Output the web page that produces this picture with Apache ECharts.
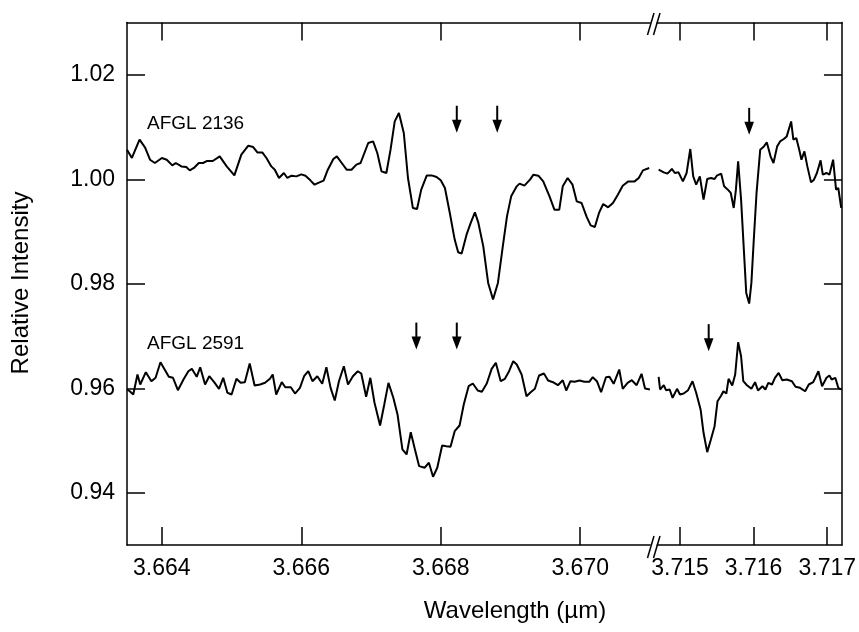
<!DOCTYPE html>
<html>
<head>
<meta charset="utf-8">
<script src="https://cdn.jsdelivr.net/npm/echarts@6/dist/echarts.min.js"></script>
<style>
  html, body { margin: 0; padding: 0; background: #fff; }
  #chart { width: 859px; height: 632px; }
</style>
</head>
<body>
<div id="chart"></div>
<script>
// ---- Spectra: wavelength (µm) and relative intensity ----
// AFGL 2136, short-wavelength segment
const wave2136A = [
  3.66350,3.66357,3.66368,3.66376,3.66383,3.66390,3.66400,3.66407,3.66415,3.66420,
  3.66428,3.66435,3.66440,3.66446,3.66453,3.66459,3.66465,3.66473,3.66483,3.66493,
  3.66504,3.66514,3.66524,3.66531,3.66537,3.66544,3.66550,3.66557,3.66562,3.66568,
  3.66575,3.66580,3.66586,3.66593,3.66600,3.66606,3.66613,3.66619,3.66626,3.66632,
  3.66638,3.66646,3.66651,3.66658,3.66665,3.66672,3.66679,3.66685,3.66696,3.66703,
  3.66709,3.66715,3.66722,3.66728,3.66734,3.66740,3.66747,3.66753,3.66760,3.66766,
  3.66772,3.66780,3.66787,3.66794,3.66800,3.66806,3.66813,3.66820,3.66825,3.66830,
  3.66837,3.66843,3.66849,3.66854,3.66861,3.66868,3.66875,3.66882,3.66889,3.66895,
  3.66901,3.66909,3.66913,3.66920,3.66928,3.66933,3.66940,3.66947,3.66956,3.66963,
  3.66970,3.66975,3.66982,3.66989,3.66995,3.67002,3.67009,3.67015,3.67021,3.67027,
  3.67033,3.67040,3.67047,3.67054,3.67061,3.67069,3.67078,3.67084,3.67090,3.67099
];
const int2136A = [
  1.00566,1.00407,1.00757,1.00604,1.00374,1.00311,1.00407,1.00374,1.00265,1.00311,
  1.00246,1.00235,1.00170,1.00216,1.00311,1.00311,1.00350,1.00350,1.00438,1.00246,
  1.00074,1.00470,1.00642,1.00617,1.00514,1.00514,1.00407,1.00246,1.00183,1.00024,
  1.00120,1.00024,1.00068,1.00055,1.00093,1.00068,0.99979,0.99896,0.99940,0.99973,
  1.00183,1.00388,1.00438,1.00311,1.00183,1.00183,1.00279,1.00311,1.00694,1.00724,
  1.00503,1.00151,1.00120,1.00566,1.01107,1.01268,1.00885,1.00024,0.99451,0.99432,
  0.99801,1.00074,1.00074,1.00044,0.99979,0.99833,0.99355,0.98845,0.98602,0.98577,
  0.98940,0.99164,0.99367,0.99164,0.98716,0.98016,0.97697,0.98016,0.98716,0.99290,
  0.99673,0.99864,0.99916,0.99877,0.99992,1.00088,1.00068,0.99959,0.99673,0.99418,
  0.99418,0.99864,1.00024,0.99896,0.99577,0.99546,0.99290,0.99118,0.99087,0.99355,
  0.99527,0.99462,0.99546,0.99705,0.99877,0.99959,0.99959,1.00024,1.00170,1.00216
];
// AFGL 2136, long-wavelength segment
const wave2136B = [
  3.71471,3.71478,3.71483,3.71489,3.71493,3.71498,3.71504,3.71509,3.71514,3.71518,
  3.71522,3.71527,3.71532,3.71537,3.71542,3.71547,3.71550,3.71556,3.71560,3.71565,
  3.71569,3.71573,3.71576,3.71579,3.71583,3.71587,3.71590,3.71594,3.71597,3.71600,
  3.71604,3.71609,3.71614,3.71618,3.71623,3.71627,3.71632,3.71636,3.71641,3.71645,
  3.71651,3.71654,3.71658,3.71662,3.71665,3.71669,3.71673,3.71678,3.71682,3.71686,
  3.71691,3.71694,3.71699,3.71703,3.71708,3.71712,3.71715,3.71719
];
const int2136B = [
  1.00183,1.00132,1.00107,1.00197,1.00120,1.00132,0.99959,1.00120,1.00579,1.00055,
  0.99896,1.00055,0.99610,1.00005,1.00024,1.00005,1.00068,1.00107,0.99864,0.99801,
  0.99738,0.99451,0.99801,1.00342,0.99610,0.98590,0.97825,0.97621,0.98016,0.98781,
  0.99738,1.00566,1.00629,1.00705,1.00438,1.00311,1.00629,1.00724,1.00770,1.00820,
  1.01107,1.00757,1.00789,1.00566,1.00374,1.00533,1.00246,0.99940,0.99992,1.00120,
  1.00361,1.00088,1.00120,1.00088,1.00374,0.99801,0.99833,0.99451
];
// AFGL 2591, short-wavelength segment
const wave2591A = [
  3.66350,3.66354,3.66359,3.66365,3.66369,3.66377,3.66385,3.66391,3.66398,3.66404,
  3.66410,3.66416,3.66423,3.66431,3.66438,3.66443,3.66450,3.66455,3.66462,3.66468,
  3.66475,3.66482,3.66488,3.66494,3.66500,3.66507,3.66513,3.66519,3.66526,3.66533,
  3.66541,3.66548,3.66555,3.66559,3.66564,3.66572,3.66577,3.66585,3.66591,3.66598,
  3.66604,3.66610,3.66616,3.66623,3.66630,3.66636,3.66642,3.66648,3.66654,3.66661,
  3.66667,3.66674,3.66681,3.66686,3.66693,3.66699,3.66705,3.66713,3.66719,3.66725,
  3.66732,3.66738,3.66745,3.66751,3.66757,3.66763,3.66769,3.66777,3.66783,3.66789,
  3.66795,3.66802,3.66808,3.66814,3.66820,3.66827,3.66833,3.66840,3.66846,3.66853,
  3.66859,3.66866,3.66873,3.66879,3.66886,3.66892,3.66898,3.66904,3.66909,3.66916,
  3.66923,3.66929,3.66935,3.66941,3.66948,3.66954,3.66961,3.66968,3.66975,3.66980,
  3.66986,3.66992,3.66999,3.67006,3.67013,3.67018,3.67024,3.67030,3.67037,3.67042,
  3.67048,3.67056,3.67061,3.67068,3.67074,3.67081,3.67088,3.67093,3.67100
];
const int2591A = [
  0.95976,0.95943,0.95880,0.96263,0.96072,0.96307,0.96135,0.96200,0.96498,0.96358,
  0.96219,0.96200,0.95963,0.96167,0.96326,0.96372,0.96219,0.96402,0.96072,0.96230,
  0.96116,0.95989,0.96200,0.95913,0.95880,0.96181,0.96104,0.96116,0.96473,0.96052,
  0.96072,0.96104,0.96181,0.96263,0.95880,0.96116,0.96020,0.96020,0.95899,0.96008,
  0.96230,0.96326,0.96135,0.96230,0.96085,0.96402,0.96008,0.95766,0.96135,0.96422,
  0.96072,0.96230,0.96326,0.96282,0.95836,0.96200,0.95722,0.95287,0.95689,0.96104,
  0.95817,0.95498,0.94829,0.94733,0.95159,0.94829,0.94509,0.94479,0.94574,0.94306,
  0.94479,0.94905,0.94892,0.94880,0.95178,0.95287,0.95689,0.96039,0.96091,0.95957,
  0.95932,0.96091,0.96372,0.96487,0.96135,0.96181,0.96326,0.96517,0.96454,0.96263,
  0.95848,0.95924,0.95989,0.96244,0.96282,0.96148,0.96116,0.96058,0.96154,0.95957,
  0.96135,0.96123,0.96148,0.96123,0.96123,0.96211,0.96135,0.95924,0.96211,0.96219,
  0.96085,0.96358,0.95989,0.96104,0.96154,0.96058,0.96276,0.95995,0.95976
];
// AFGL 2591, long-wavelength segment
const wave2591B = [
  3.71471,3.71473,3.71478,3.71481,3.71486,3.71490,3.71496,3.71500,3.71505,3.71511,
  3.71517,3.71522,3.71528,3.71532,3.71537,3.71542,3.71547,3.71551,3.71556,3.71559,
  3.71563,3.71566,3.71571,3.71575,3.71579,3.71583,3.71586,3.71591,3.71597,3.71602,
  3.71606,3.71612,3.71616,3.71620,3.71625,3.71629,3.71634,3.71639,3.71645,3.71652,
  3.71657,3.71663,3.71670,3.71675,3.71681,3.71688,3.71693,3.71699,3.71703,3.71706,
  3.71711,3.71715,3.71719
];
const int2591B = [
  0.96219,0.95976,0.96058,0.95963,0.95976,0.95817,0.95989,0.95880,0.95899,0.95963,
  0.96135,0.95913,0.95594,0.95148,0.94777,0.95020,0.95274,0.95752,0.95861,0.95943,
  0.95899,0.96181,0.96052,0.96263,0.96881,0.96613,0.96135,0.96058,0.95989,0.96116,
  0.95957,0.96039,0.95976,0.96104,0.96072,0.96200,0.96295,0.96154,0.96167,0.96135,
  0.96028,0.96008,0.95943,0.96072,0.96116,0.96326,0.96039,0.96200,0.96244,0.96167,
  0.96200,0.96008,0.95976
];

// Absorption-line markers: wavelength and arrow-tip intensity
const arrowWave2136 = [3.66823, 3.66881, 3.71594];
const arrowTip2136 = [1.0089, 1.0089, 1.0085];
const arrowWave2591 = [3.66765, 3.66823, 3.71539];
const arrowTip2591 = [0.9674, 0.9674, 0.9671];

// Axis ranges and ticks for the two halves of the broken wavelength axis
const waveRangeA = [3.6635, 3.67103];
const waveRangeB = [3.71462, 3.71720];
const waveTicksA = [3.664, 3.666, 3.668, 3.670];
const waveTicksB = [3.715, 3.716, 3.717];
const intRange = [0.93, 1.03];
const intTicks = [0.94, 0.96, 0.98, 1.00, 1.02];

const FONT = '"Liberation Sans", Arial, Helvetica, sans-serif';
const BLACK = '#000';

const pairs = (xs, ys) => xs.map((x, i) => [x, ys[i]]);

function xAxisDef(gridIndex, range, ticks, position, labels) {
  return {
    type: 'value', gridIndex, position, min: range[0], max: range[1],
    axisLine: { show: true, onZero: false, lineStyle: { color: BLACK, width: 1.5 } },
    axisTick: { show: true, inside: true, length: 18, customValues: ticks,
                lineStyle: { color: BLACK, width: 1.5 } },
    axisLabel: { show: labels, customValues: ticks, margin: 12,
                 formatter: v => v.toFixed(3), color: BLACK, fontSize: 23, fontFamily: FONT },
    splitLine: { show: false }
  };
}
function yAxisDef(gridIndex, position, labels) {
  return {
    type: 'value', gridIndex, position, min: intRange[0], max: intRange[1],
    axisLine: { show: true, onZero: false, lineStyle: { color: BLACK, width: 1.5 } },
    axisTick: { show: true, inside: true, length: 18, customValues: intTicks,
                lineStyle: { color: BLACK, width: 1.5 } },
    axisLabel: { show: labels, customValues: intTicks, margin: 12,
                 formatter: v => v.toFixed(2), color: BLACK, fontSize: 23, fontFamily: FONT },
    splitLine: { show: false }
  };
}
function lineSeries(xi, yi, data) {
  return {
    type: 'line', xAxisIndex: xi, yAxisIndex: yi, data, showSymbol: false, symbol: 'none',
    lineStyle: { color: BLACK, width: 2 }, silent: true, animation: false
  };
}
// Downward arrow whose tip sits at the given (wavelength, intensity)
function arrowSeries(xi, yi, waves, tips) {
  return {
    type: 'custom', xAxisIndex: xi, yAxisIndex: yi, clip: false, silent: true,
    data: pairs(waves, tips),
    renderItem: (params, api) => {
      const p = api.coord([api.value(0), api.value(1)]);
      return {
        type: 'group',
        children: [
          { type: 'line', shape: { x1: p[0], y1: p[1] - 27, x2: p[0], y2: p[1] - 11 },
            style: { stroke: BLACK, lineWidth: 2 } },
          { type: 'polygon', shape: { points: [[p[0] - 4.8, p[1] - 13], [p[0] + 4.8, p[1] - 13], [p[0], p[1]]] },
            style: { fill: BLACK } }
        ]
      };
    }
  };
}

const chart = echarts.init(document.getElementById('chart'), null, { renderer: 'canvas' });

chart.setOption({
  animation: false,
  backgroundColor: '#fff',
  grid: [
    { left: 127, top: 22.5, width: 525, height: 522.5 },
    { left: 652, top: 22.5, width: 192, height: 522.5 }
  ],
  xAxis: [
    xAxisDef(0, waveRangeA, waveTicksA, 'bottom', true),
    xAxisDef(0, waveRangeA, waveTicksA, 'top', false),
    xAxisDef(1, waveRangeB, waveTicksB, 'bottom', true),
    xAxisDef(1, waveRangeB, waveTicksB, 'top', false)
  ],
  yAxis: [
    yAxisDef(0, 'left', true),
    yAxisDef(1, 'right', false)
  ],
  series: [
    lineSeries(0, 0, pairs(wave2136A, int2136A)),
    lineSeries(2, 1, pairs(wave2136B, int2136B)),
    lineSeries(0, 0, pairs(wave2591A, int2591A)),
    lineSeries(2, 1, pairs(wave2591B, int2591B)),
    arrowSeries(0, 0, arrowWave2136.slice(0, 2), arrowTip2136.slice(0, 2)),
    arrowSeries(2, 1, arrowWave2136.slice(2), arrowTip2136.slice(2)),
    arrowSeries(0, 0, arrowWave2591.slice(0, 2), arrowTip2591.slice(0, 2)),
    arrowSeries(2, 1, arrowWave2591.slice(2), arrowTip2591.slice(2))
  ]
});

// Axis titles, source names and the "//" break marks on the wavelength axis
const breakX = chart.convertToPixel({ xAxisIndex: 0 }, waveRangeA[1]);
const topY = chart.convertToPixel({ yAxisIndex: 0 }, intRange[1]);
const botY = chart.convertToPixel({ yAxisIndex: 0 }, intRange[0]);

function breakMark(x, y) {
  return [
    { type: 'polygon', z: 100,
      shape: { points: [[x - 2.5, y + 4], [x + 3.5, y + 4], [x + 5, y - 4], [x - 1, y - 4]] },
      style: { fill: '#fff' } },
    { type: 'line', z: 101, shape: { x1: x - 4.5, y1: y + 11, x2: x + 2, y2: y - 11 },
      style: { stroke: BLACK, lineWidth: 1.5 } },
    { type: 'line', z: 101, shape: { x1: x + 1.5, y1: y + 11, x2: x + 8, y2: y - 11 },
      style: { stroke: BLACK, lineWidth: 1.5 } }
  ];
}

chart.setOption({
  graphic: [
    ...breakMark(breakX, topY + 1.5),
    ...breakMark(breakX, botY + 2),
    { type: 'text', x: 147, y: 124, style: { text: 'AFGL 2136', fill: BLACK, fontSize: 19,
      fontFamily: FONT, align: 'left', verticalAlign: 'middle' } },
    { type: 'text', x: 147, y: 343.5, style: { text: 'AFGL 2591', fill: BLACK, fontSize: 19,
      fontFamily: FONT, align: 'left', verticalAlign: 'middle' } },
    { type: 'text', x: 21, y: 283, rotation: Math.PI / 2,
      style: { text: 'Relative Intensity', fill: BLACK, fontSize: 24, fontFamily: FONT,
               align: 'center', verticalAlign: 'middle' } },
    { type: 'text', x: 515, y: 611,
      style: { text: 'Wavelength (\u00b5m)', fill: BLACK, fontSize: 24, fontFamily: FONT,
               align: 'center', verticalAlign: 'middle' } }
  ]
});
</script>
</body>
</html>
